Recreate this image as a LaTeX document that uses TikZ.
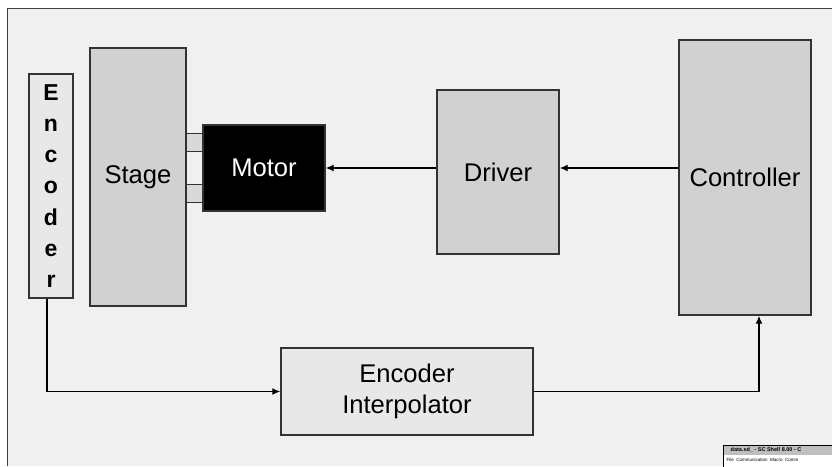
\documentclass[tikz,border=0pt]{standalone}
\usepackage{fontspec}
\setmainfont{Liberation Sans}
\usetikzlibrary{arrows.meta}

\begin{document}
\begin{tikzpicture}[x=1pt,y=-1pt,>={Latex[length=8pt,width=7pt]},
  line width=1.4pt,
  blk/.style={draw=black!80,fill=black!18,inner sep=0pt,font=\fontsize{25.6}{30}\selectfont},
  thin blk/.style={draw=black!80,fill=black!9,inner sep=0pt}]
\useasboundingbox (0,0) rectangle (832,466);
% frame of the slide
\fill[black!6] (7,8) rectangle (832,466);
\draw[black!75,line width=1pt] (7,466)--(7,8)--(832,8);
% blocks
\node[thin blk,minimum width=44pt,minimum height=224pt,align=center,
  font=\fontsize{23}{31.2}\selectfont\bfseries] (enc) at (51,186) {E\\n\\c\\o\\d\\e\\r};
\node[blk,minimum width=96pt,minimum height=258pt] (stage) at (138,177) {Stage};
\draw[draw=black!80,fill=black!15,line width=1pt] (186,133) rectangle (203,151);
\draw[draw=black!80,fill=black!15,line width=1pt] (186,184) rectangle (203,202);
\node[blk,fill=black,text=white,minimum width=122pt,minimum height=86pt] (mot) at (264,168) {Motor};
\node[blk,minimum width=122pt,minimum height=164pt] (drv) at (498,172) {Driver};
\node[blk,minimum width=132pt,minimum height=275pt] (ctrl) at (745,177.5) {Controller};
\node[thin blk,minimum width=252pt,minimum height=87pt,align=center,
  font=\fontsize{25.6}{31}\selectfont] (interp) at (407,391.5) {Encoder\\Interpolator};
% signal path
\draw[->] (ctrl.west |- mot.east) -- (drv.east |- mot.east);
\draw[->] (drv.west |- mot.east) -- (mot.east);
\draw[->] ([xshift=-4pt]enc.south) |- (interp.west);
\draw[->] (interp.east) -| ([xshift=14pt]ctrl.south);
% corner of a screenshot
\draw[fill=white,line width=0.6pt] (723,445) rectangle (840,470);
\fill[black!25] (723.5,445.5) rectangle (840,455);
\node[anchor=west,inner sep=0pt,font=\fontsize{5.5}{6}\selectfont\bfseries] (wtitle) at (730,450) {data.sd\_ - SC Shell 8.00 - C};
\node[anchor=west,inner sep=0pt,font=\fontsize{4.5}{5}\selectfont] (wmenu) at (726,460) {File\ \ Communication\ \ Macro\ \ Comm};
\end{tikzpicture}
\end{document}
